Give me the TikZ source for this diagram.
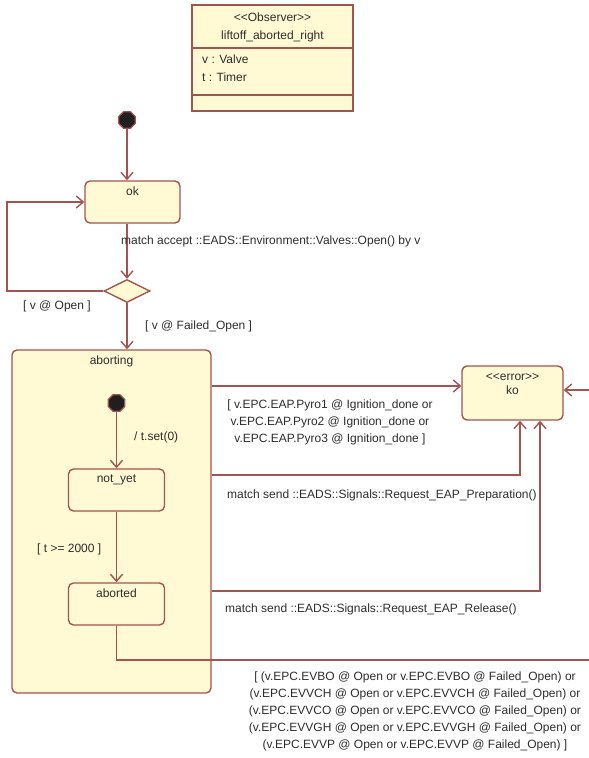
\documentclass[tikz,border=0pt]{standalone}
\usepackage{fontspec}
\setmainfont{Liberation Sans}[Ligatures=TeXOff]
\usetikzlibrary{arrows.meta,shapes.geometric}
\definecolor{umlline}{RGB}{163,84,80}
\definecolor{umlfill}{RGB}{255,250,212}
\definecolor{umltext}{RGB}{45,45,45}
\tikzset{
  statebox/.style={rectangle, rounded corners=5pt, draw=umlline, fill=umlfill, line width=1.4pt, inner sep=0pt},
  statetext/.style={anchor=north, inner sep=6.5pt, align=center, text=umltext},
  initdot/.style={regular polygon, regular polygon sides=8, minimum size=18pt, inner sep=0pt,
    draw=umlline, fill=black!88, line width=1.2pt},
  choicebox/.style={diamond, minimum width=46pt, minimum height=23pt, inner sep=0pt,
    draw=umlline, fill=umlfill, line width=1.4pt},
  guard/.style={text=umltext, inner sep=0pt, align=center},
  edge/.style={draw=umlline, line width=1.4pt},
}
\begin{document}
\begin{tikzpicture}[x=1pt, y=-1pt, >={Straight Barb[length=7pt,width=12pt]},
    every node/.style={font=\fontsize{12}{17}\selectfont}]
    \useasboundingbox (0,0) rectangle (589,758);

    % Observer class
    \node[draw=umlline, fill=umlfill, line width=1.4pt, minimum width=161pt, minimum height=106pt,
      inner sep=0pt] (observer) at (272.5,58) {};
    \foreach \y in {48,95} \draw[edge] (observer.west |- 0,\y) -- (observer.east |- 0,\y);
    \node[guard] (stereo) at (272.5,17) {<<Observer>>};
    \node[guard] (obsname) at (272.5,36) {liftoff\_aborted\_right};
    \node[guard, anchor=west] (attv) at (202,59) {v : Valve};
    \node[guard, anchor=west] (attt) at (202,77) {t : Timer};

    % Top level states
    \node[initdot] (init) at (127,120) {};
    \node[statebox, minimum width=95pt, minimum height=42pt, label={[statetext]north:ok}] (ok) at (132.5,202) {};
    \node[choicebox] (choice) at (127,291) {};
    \node[statebox, minimum width=199pt, minimum height=343pt, label={[statetext]north:aborting}] (aborting) at (111.5,521.5) {};
    \node[statebox, minimum width=101pt, minimum height=54pt,
      label={[statetext, inner sep=8pt, font=\fontsize{12}{14}\selectfont]north:{<<error>>\\ko}}] (ko) at (512.5,393) {};

    % Inside aborting
    \node[initdot] (init2) at (116.5,403) {};
    \node[statebox, minimum width=96pt, minimum height=42pt, label={[statetext]north:not\_yet}] (notyet) at (116.5,490) {};
    \node[statebox, minimum width=96pt, minimum height=42pt, label={[statetext]north:aborted}] (aborted) at (116.5,604) {};

    \coordinate (outR) at (589,660);
    \coordinate (inR) at (589,390);

    % Transitions
    \draw[edge, ->] (init) -- (init |- ok.north);
    \draw[edge, ->] (init |- ok.south) -- (choice.north);
    \draw[edge, ->] (choice.west) -- (7,291) |- (ok.west);
    \draw[edge, ->] (choice.south) -- (choice |- aborting.north);
    \draw[edge, ->] (init2) -- (notyet.north);
    \draw[edge, ->] (notyet.south) -- (aborted.north);
    \draw[edge, ->] (aborting.east |- 0,386) -- (ko.west |- 0,386);
    \draw[edge, ->] (aborting.east |- 0,475) -| ([xshift=7.5pt]ko.south);
    \draw[edge, ->] (aborting.east |- 0,591) -| ([xshift=27.5pt]ko.south);
    \draw[edge] (aborted.south) |- (outR);
    \draw[edge, ->] (inR) -- (ko.east |- inR);

    % Labels
    \node[guard, anchor=west] (accept) at (121,241) {match accept ::EADS::Environment::Valves::Open() by v};
    \node[guard, anchor=west] (gopen) at (23,306) {[ v @ Open ]};
    \node[guard, anchor=west] (gfailed) at (145,326) {[ v @ Failed\_Open ]};
    \node[guard, anchor=west] (tset) at (134,437) {/ t.set(0)};
    \node[guard, anchor=west] (gtime) at (37,549) {[ t >= 2000 ]};
    \node[guard] (gpyro) at (330,422) {[ v.EPC.EAP.Pyro1 @ Ignition\_done or\\
      v.EPC.EAP.Pyro2 @ Ignition\_done or\\ v.EPC.EAP.Pyro3 @ Ignition\_done ]};
    \node[guard, anchor=west] (sprep) at (227,495) {match send ::EADS::Signals::Request\_EAP\_Preparation()};
    \node[guard, anchor=west] (srel) at (225,609) {match send ::EADS::Signals::Request\_EAP\_Release()};
    \node[guard] (gvalves) at (415,711) {[ (v.EPC.EVBO @ Open or v.EPC.EVBO @ Failed\_Open) or\\
      (v.EPC.EVVCH @ Open or v.EPC.EVVCH @ Failed\_Open) or\\
      (v.EPC.EVVCO @ Open or v.EPC.EVVCO @ Failed\_Open) or\\
      (v.EPC.EVVGH @ Open or v.EPC.EVVGH @ Failed\_Open) or\\
      (v.EPC.EVVP @ Open or v.EPC.EVVP @ Failed\_Open) ]};
\end{tikzpicture}
\end{document}
